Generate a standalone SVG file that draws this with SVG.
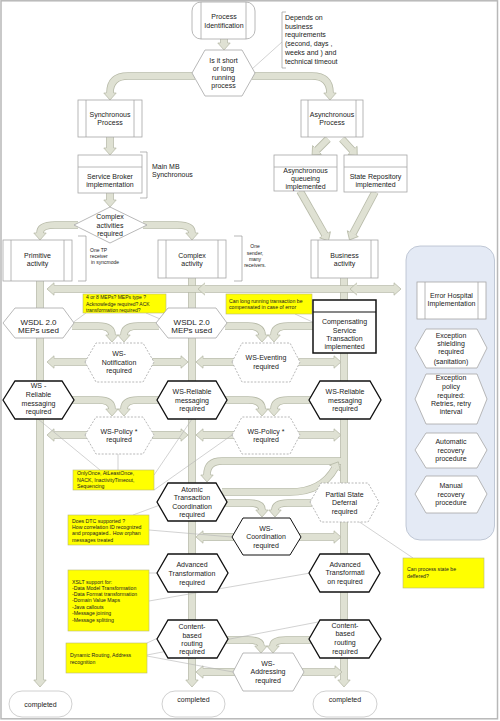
<svg xmlns="http://www.w3.org/2000/svg" width="500" height="721" viewBox="0 0 500 721">
<style>
.n{fill:#fff;stroke:#a6a6a6;stroke-width:0.8}
.d{fill:#fff;stroke:#a6a6a6;stroke-width:0.8;stroke-dasharray:2,1.5}
.k{fill:#fff;stroke:#111;stroke-width:1.3}
.note{fill:#ffff00;stroke:#b8b87a;stroke-width:0.6}
.il{fill:none;stroke:#a6a6a6;stroke-width:0.8}
.t{font-family:"Liberation Sans",Arial,sans-serif;font-size:7px;fill:#222;text-anchor:middle}
.t8{font-size:8px}
.s{font-family:"Liberation Sans",Arial,sans-serif;font-size:5.2px;fill:#222}
.sm{font-family:"Liberation Sans",Arial,sans-serif;font-size:5px;fill:#222}
.bo{fill:none;stroke:#b7baa8;stroke-width:7.6;marker-end:url(#h)}
.bi{fill:none;stroke:#dfe1d3;stroke-width:6}
.both{marker-start:url(#h)}
.ln{fill:none;stroke:#b4b4b4;stroke-width:0.6}
.br{fill:none;stroke:#9a9a9a;stroke-width:0.7}
</style>
<defs>
<marker id="h" markerUnits="userSpaceOnUse" orient="auto-start-reverse" refX="0" refY="0" markerWidth="16" markerHeight="16" overflow="visible">
<path d="M0,-6.2 L7,0 L0,6.2 Z" fill="#dfe1d3"/>
<path d="M0,-3.8 V-6.2 L7,0 L0,6.2 V3.8" fill="none" stroke="#b7baa8" stroke-width="0.8"/>
</marker>
</defs>
<rect x="1" y="0.8" width="496.5" height="718" fill="#fff" stroke="#b8b8b8" stroke-width="1.5"/>
<g id="error-hospital-area"><rect x="406" y="246" width="88.5" height="294" rx="14" fill="#e4eaf5" stroke="#b4bccb" stroke-width="0.8"/></g>
<g id="connectors">
<path class="bo" d="M224,39 V43"/><path class="bi" d="M224,39 V43"/>
<path class="bo" d="M195,76 H128 Q110,76 110,93"/><path class="bi" d="M195,76 H128 Q110,76 110,93"/>
<path class="bo" d="M252,76 H312 Q330,76 330,93"/><path class="bi" d="M252,76 H312 Q330,76 330,93"/>
<path class="bo" d="M110,137 V148"/><path class="bi" d="M110,137 V148"/>
<path class="bo" d="M328,139 L317,150"/><path class="bi" d="M328,139 L317,150"/>
<path class="bo" d="M342,139 L352.5,150.5"/><path class="bi" d="M342,139 L352.5,150.5"/>
<path class="bo" d="M300,191 L325,234.8"/><path class="bi" d="M300,191 L325,234.8"/>
<path class="bo" d="M375,192 L352.8,233.7"/><path class="bi" d="M375,192 L352.8,233.7"/>
<path class="bo" d="M110,193 V200"/><path class="bi" d="M110,193 V200"/>
<path class="bo" d="M78,225 H55 Q40,225 40,233"/><path class="bi" d="M78,225 H55 Q40,225 40,233"/>
<path class="bo" d="M143,225 H177 Q192,225 192,233"/><path class="bi" d="M143,225 H177 Q192,225 192,233"/>
<path class="bo" d="M40,281 V680"/><path class="bi" d="M40,281 V680"/>
<path class="bo" d="M192,278 V680"/><path class="bi" d="M192,278 V680"/>
<path class="bo" d="M344,278 V680"/><path class="bi" d="M344,278 V680"/>
<path class="bo both" d="M54,289 H394"/><path class="bi" d="M54,289 H394"/>
<path d="M205,282.8 L198,289 L205,295.2 Z" fill="#dfe1d3"/><path d="M205,282.8 L198,289 L205,295.2" fill="none" stroke="#b7baa8" stroke-width="0.8"/>
<path d="M357,282.8 L350,289 L357,295.2 Z" fill="#dfe1d3"/><path d="M357,282.8 L350,289 L357,295.2" fill="none" stroke="#b7baa8" stroke-width="0.8"/>
<path class="bo" d="M72,326 H98 Q112,326 112,335"/><path class="bi" d="M72,326 H98 Q112,326 112,335"/>
<path class="bo" d="M159,326 H138 Q124,326 124,335"/><path class="bi" d="M159,326 H138 Q124,326 124,335"/>
<path class="bo" d="M225,326 H248 Q262,326 262,335"/><path class="bi" d="M225,326 H248 Q262,326 262,335"/>
<path class="bo" d="M313,326 H288 Q274,326 274,335"/><path class="bi" d="M313,326 H288 Q274,326 274,335"/>
<path class="bo" d="M87,362 H54"/><path class="bi" d="M87,362 H54"/>
<path class="bo" d="M152,362 H181"/><path class="bi" d="M152,362 H181"/>
<path class="bo" d="M234,362 H203"/><path class="bi" d="M234,362 H203"/>
<path class="bo" d="M298,362 H334"/><path class="bi" d="M298,362 H334"/>
<path class="bo" d="M72,400 H98 Q112,400 112,409"/><path class="bi" d="M72,400 H98 Q112,400 112,409"/>
<path class="bo" d="M159,400 H138 Q124,400 124,409"/><path class="bi" d="M159,400 H138 Q124,400 124,409"/>
<path class="bo" d="M225,400 H248 Q262,400 262,409"/><path class="bi" d="M225,400 H248 Q262,400 262,409"/>
<path class="bo" d="M311,400 H288 Q274,400 274,409"/><path class="bi" d="M311,400 H288 Q274,400 274,409"/>
<path class="bo" d="M87,435 H54"/><path class="bi" d="M87,435 H54"/>
<path class="bo" d="M152,435 H181"/><path class="bi" d="M152,435 H181"/>
<path class="bo" d="M234,435 H203"/><path class="bi" d="M234,435 H203"/>
<path class="bo" d="M298,435 H334"/><path class="bi" d="M298,435 H334"/>
<path class="bo" d="M341,461 H222 Q207,461 207,475"/><path class="bi" d="M341,461 H222 Q207,461 207,475"/>
<path class="bo" d="M222,492 H290 Q322,492 335,468"/><path class="bi" d="M222,492 H290 Q322,492 335,468"/>
<path class="bo" d="M225,503 H249 Q262,503 262,510"/><path class="bi" d="M225,503 H249 Q262,503 262,510"/>
<path class="bo" d="M312,503 H288 Q275,503 275,510"/><path class="bi" d="M312,503 H288 Q275,503 275,510"/>
<path class="bo" d="M234,537 H203"/><path class="bi" d="M234,537 H203"/>
<path class="bo" d="M299,537 H334"/><path class="bi" d="M299,537 H334"/>
<path class="bo" d="M226,640 H248 Q261,640 261,646"/><path class="bi" d="M226,640 H248 Q261,640 261,646"/>
<path class="bo" d="M311,640 H286 Q273,640 273,646"/><path class="bi" d="M311,640 H286 Q273,640 273,646"/>
<path class="bo" d="M235,672 H203"/><path class="bi" d="M235,672 H203"/>
<path class="bo" d="M302,672 H335"/><path class="bi" d="M302,672 H335"/>
<path class="ln" d="M282,42 L252,69"/>
<path class="ln" d="M86,313 L64,329"/>
<path class="ln" d="M146,313 L172,324"/>
<path class="ln" d="M295,314 L330,330"/>
<path class="ln" d="M100,470 L38,419"/>
<path class="ln" d="M118,470 L118,454"/>
<path class="ln" d="M154,475 L192,419"/>
<path class="ln" d="M154,490 L232,435"/>
<path class="ln" d="M149,530 L232,537"/>
<path class="ln" d="M133,515 L160,505"/>
<path class="ln" d="M149,573 L157,573"/>
<path class="ln" d="M149,601 L316,572"/>
<path class="ln" d="M147,643 L160,637"/>
<path class="ln" d="M147,655 L318,622"/>
<path class="ln" d="M147,656 L233,672"/>
<path class="ln" d="M413,558 L358,521"/>
</g>
<g id="process-identification"><rect class="n" x="192" y="2" width="63" height="37" rx="9"/><path class="il" d="M201,2 V39 M246,2 V39"/><text class="t" x="224" y="19.2">Process</text><text class="t" x="224" y="27.5">Identification</text></g>
<g id="short-or-long"><polygon class="n" points="192,73 205,50 242,50 255,73 242,96 205,96"/><text class="t" x="223.5" y="62.7">Is it short</text><text class="t" x="223.5" y="71.2">or long</text><text class="t" x="223.5" y="79.7">running</text><text class="t" x="223.5" y="88.2">process</text></g>
<g id="depends-note"><path class="br" d="M286,12 H282 V68 H286"/><text class="t" style="text-anchor:start" x="285" y="19.8">Depends on</text><text class="t" style="text-anchor:start" x="285" y="28.5">business</text><text class="t" style="text-anchor:start" x="285" y="36.8">requirements</text><text class="t" style="text-anchor:start" x="285" y="45.8">(second, days ,</text><text class="t" style="text-anchor:start" x="285" y="54.8">weeks and ) and</text><text class="t" style="text-anchor:start" x="285" y="63.5">technical timeout</text></g>
<g id="synchronous-process"><rect class="n" x="78" y="100" width="64" height="37"/><path class="il" d="M86,100 V137 M134,100 V137"/><text class="t" x="110" y="117">Synchronous</text><text class="t" x="110" y="125.2">Process</text></g>
<g id="asynchronous-process"><rect class="n" x="301" y="100" width="62" height="37"/><path class="il" d="M308,100 V137 M356,100 V137"/><text class="t" x="332" y="117">Asynchronous</text><text class="t" x="332" y="125.2">Process</text></g>
<g id="service-broker"><rect class="n" x="78" y="155" width="64" height="38"/><path class="il" d="M78,167 H142"/><text class="t" x="110" y="178.5">Service Broker</text><text class="t" x="110" y="186.8">implementation</text></g>
<g id="main-mb-note"><path class="br" d="M140,152 H147 V198 H140"/><text class="t" style="text-anchor:start" x="152" y="168.5">Main MB</text><text class="t" style="text-anchor:start" x="152" y="176.8">Synchronous</text></g>
<g id="async-queueing"><rect class="n" x="274" y="155" width="63" height="36"/><path class="il" d="M274,167 H337"/><text class="t" x="305.5" y="172.5">Asynchronous</text><text class="t" x="305.5" y="180.8">queueing</text><text class="t" x="305.5" y="189.2">implemented</text></g>
<g id="state-repository"><rect class="n" x="344" y="155" width="63" height="37"/><path class="il" d="M344,167 H407"/><text class="t" x="375.5" y="178.5">State Repository</text><text class="t" x="375.5" y="186.8">implemented</text></g>
<g id="complex-activities-required"><polygon class="n" points="74,225 110,207 147,225 110,243"/><text class="t" x="110" y="219.2">Complex</text><text class="t" x="110" y="227.5">activities</text><text class="t" x="110" y="235.8">required</text></g>
<g id="primitive-activity"><rect class="n" x="3" y="240" width="69" height="41"/><path class="il" d="M11,240 V281 M64,240 V281"/><text class="t" x="37.5" y="257.5">Primitive</text><text class="t" x="37.5" y="265.8">activity</text></g>
<g id="one-tp-note"><path class="br" d="M78,236 H86 V281 H78"/><text class="sm" x="90" y="251.8">One TP</text><text class="sm" x="90" y="257.8">receiver</text><text class="sm" x="91" y="263.5">in syncmode</text></g>
<g id="complex-activity"><rect class="n" x="158" y="240" width="68" height="38"/><path class="il" d="M166,240 V278 M218,240 V278"/><text class="t" x="192" y="257.5">Complex</text><text class="t" x="192" y="265.8">activity</text></g>
<g id="one-sender-note"><path class="br" d="M234,236 H242 V281 H234"/><text class="sm" x="255" y="247.8" text-anchor="middle">One</text><text class="sm" x="255" y="254.5" text-anchor="middle">sender,</text><text class="sm" x="255" y="261.1" text-anchor="middle">many</text><text class="sm" x="255" y="267.1" text-anchor="middle">receivers.</text></g>
<g id="business-activity"><rect class="n" x="311" y="240" width="67" height="38"/><path class="il" d="M318,240 V278 M371,240 V278"/><text class="t" x="344.5" y="257.5">Business</text><text class="t" x="344.5" y="265.8">activity</text></g>
<g id="note-meps"><rect class="note" x="83" y="294" width="83" height="19"/><text class="sm" x="86" y="299.1">4 or 8 MEPs? MEPs type ?</text><text class="sm" x="86" y="305.6">Acknowledge required? ACK</text><text class="sm" x="86" y="311.8">transformation required?</text></g>
<g id="note-compensate"><rect class="note" x="226" y="294" width="86" height="20"/><text class="s" x="229" y="303.1">Can long running transaction be</text><text class="s" x="229" y="309.1">compensated in case of error</text></g>
<g id="wsdl-left"><polygon class="n" points="3,323 15,308 63,308 74,323 63,338 15,338"/><text class="t t8" x="38.5" y="324.5">WSDL 2.0</text><text class="t t8" x="38.5" y="332.8">MEPs used</text></g>
<g id="wsdl-mid"><polygon class="n" points="156,323 168,308 216,308 227,323 216,338 168,338"/><text class="t t8" x="191.7" y="324.5">WSDL 2.0</text><text class="t t8" x="191.7" y="332.8">MEPs used</text></g>
<g id="compensating"><rect x="313" y="300" width="63" height="53" fill="#fff" stroke="#111" stroke-width="1.5"/><path d="M313,312 H376" stroke="#111" stroke-width="1.2"/><text class="t" x="344.5" y="324.2">Compensating</text><text class="t" x="344.5" y="332.5">Service</text><text class="t" x="344.5" y="340.8">Transaction</text><text class="t" x="344.5" y="349.2">implemented</text></g>
<g id="ws-notification"><polygon class="d" points="85,362 96,343 143,343 154,362 143,382 96,382"/><text class="t" x="119" y="355.8">WS-</text><text class="t" x="119" y="364.8">Notification</text><text class="t" x="119" y="373.2">required</text></g>
<g id="ws-eventing"><polygon class="d" points="232,362 242,343 290,343 300,362 290,382 242,382"/><text class="t" x="266" y="359.8">WS-Eventing</text><text class="t" x="266" y="368.5">required</text></g>
<g id="ws-reliable-left"><polygon class="k" points="3,400 15,381 62,381 74,400 62,419 15,419"/><text class="t" x="38.5" y="388.2">WS -</text><text class="t" x="38.5" y="396.8">Reliable</text><text class="t" x="38.5" y="405.8">messaging</text><text class="t" x="38.5" y="414.2">required</text></g>
<g id="ws-reliable-mid"><polygon class="k" points="157,400 168,381 216,381 227,400 216,419 168,419"/><text class="t" x="192" y="393.5">WS-Reliable</text><text class="t" x="192" y="402.5">messaging</text><text class="t" x="192" y="410.8">required</text></g>
<g id="ws-reliable-right"><polygon class="k" points="309,400 320,381 370,381 381,400 370,419 320,419"/><text class="t" x="345" y="393.5">WS-Reliable</text><text class="t" x="345" y="402.5">messaging</text><text class="t" x="345" y="410.8">required</text></g>
<g id="ws-policy-left"><polygon class="d" points="85,435 96,417 143,417 154,435 143,454 96,454"/><text class="t" x="119" y="433.5">WS-Policy *</text><text class="t" x="119" y="441.8">required</text></g>
<g id="ws-policy-right"><polygon class="d" points="232,435 242,417 290,417 300,435 290,454 242,454"/><text class="t" x="266" y="433.5">WS-Policy *</text><text class="t" x="266" y="441.8">required</text></g>
<g id="note-policy"><rect class="note" x="73" y="470" width="81" height="20"/><text class="s" x="77" y="475.1">OnlyOnce, AtLeastOnce,</text><text class="s" x="77" y="481.8">NACK, InactivityTimeout,</text><text class="s" x="77" y="487.8">Sequencing</text></g>
<g id="atomic-transaction"><polygon class="k" points="157,502 168,483 216,483 227,502 216,521 168,521"/><text class="t" x="192" y="491.8">Atomic</text><text class="t" x="192" y="500.2">Transaction</text><text class="t" x="192" y="508.5">Coordination</text><text class="t" x="192" y="516.8">required</text></g>
<g id="partial-state"><polygon class="d" points="310,502 321,483 368,483 379,502 368,522 321,522"/><text class="t" x="344.5" y="496.5">Partial State</text><text class="t" x="344.5" y="505.2">Deferral</text><text class="t" x="344.5" y="513.5">required</text></g>
<g id="note-dtc"><rect class="note" x="68" y="515" width="81" height="30"/><text class="s" x="72" y="522.5">Does DTC supported ?</text><text class="s" x="72" y="528.5">How correlation ID recognized</text><text class="s" x="72" y="535.1">and propagated.. How orphan</text><text class="s" x="72" y="541.8">messages treated</text></g>
<g id="ws-coordination"><polygon fill="#fff" stroke="#111" stroke-width="1" points="232,537 243,518 290,518 301,537 290,555 243,555"/><text class="t" x="266" y="530.9">WS-</text><text class="t" x="266" y="539.2">Coordination</text><text class="t" x="266" y="547.5">required</text></g>
<g id="advanced-mid"><polygon class="k" points="157,573 168,554 217,554 228,573 217,592 168,592"/><text class="t" x="192" y="566.8">Advanced</text><text class="t" x="192" y="575.8">Transformation</text><text class="t" x="192" y="584.8">required</text></g>
<g id="advanced-right"><polygon class="k" points="309,573 320,554 369,554 380,573 369,592 320,592"/><text class="t" x="345" y="566.5">Advanced</text><text class="t" x="345" y="575.2">Transformati</text><text class="t" x="345" y="583.5">on required</text></g>
<g id="note-xslt"><rect class="note" x="68" y="570" width="81" height="61"/><text class="s" x="72" y="583.5">XSLT support for:</text><text class="s" x="72" y="589.5">-Data Model Transformation</text><text class="s" x="72" y="595.8">-Data Format transformation</text><text class="s" x="72" y="602.1">-Domain Value Maps</text><text class="s" x="72" y="608.5">-Java callouts</text><text class="s" x="72" y="615.1">-Message joining</text><text class="s" x="72" y="621.5">-Message splitting</text></g>
<g id="content-mid"><polygon class="k" points="157,639 168,620 217,620 228,639 217,658 168,658"/><text class="t" x="192" y="629.2">Content-</text><text class="t" x="192" y="637.5">based</text><text class="t" x="192" y="645.8">routing</text><text class="t" x="192" y="654.2">required</text></g>
<g id="content-right"><polygon class="k" points="309,639 320,620 369,620 381,639 369,658 320,658"/><text class="t" x="345" y="627.5">Content-</text><text class="t" x="345" y="635.8">based</text><text class="t" x="345" y="644.8">routing</text><text class="t" x="345" y="653.5">required</text></g>
<g id="ws-addressing"><polygon class="n" points="233,672 243,653 293,653 304,672 293,691 243,691"/><text class="t" x="268" y="665.8">WS-</text><text class="t" x="268" y="674.2">Addressing</text><text class="t" x="268" y="682.5">required</text></g>
<g id="note-routing"><rect class="note" x="66" y="643" width="81" height="30"/><text class="s" x="70" y="656.8">Dynamic Routing, Address</text><text class="s" x="70" y="663.5">recognition</text></g>
<g id="note-state"><rect class="note" x="403" y="558" width="81" height="30"/><text class="s" x="407" y="571.1">Can process state be</text><text class="s" x="407" y="577.5">deffered?</text></g>
<g id="completed-left"><rect x="9" y="691" width="63" height="26" rx="13" fill="#fff" stroke="#c4c4c4" stroke-width="0.8"/><text class="t" x="40.5" y="706.5">completed</text></g>
<g id="completed-mid"><rect x="162" y="691" width="63" height="26" rx="13" fill="#fff" stroke="#c4c4c4" stroke-width="0.8"/><text class="t" x="193.5" y="701.5">completed</text></g>
<g id="completed-right"><rect x="313" y="691" width="64" height="26" rx="13" fill="#fff" stroke="#c4c4c4" stroke-width="0.8"/><text class="t" x="345" y="701.5">completed</text></g>
<g id="error-hospital"><rect class="n" x="417" y="282" width="69" height="37"/><path class="il" d="M425,282 V319 M478,282 V319"/><text class="t" x="451.5" y="297.5">Error Hospital</text><text class="t" x="451.5" y="305.8">Implementation</text></g>
<g id="exception-shielding"><polygon class="n" points="415,348 426,329 477,329 487,348 477,368 426,368"/><text class="t" x="451" y="337.5">Exception</text><text class="t" x="451" y="345.8">shielding</text><text class="t" x="451" y="354.2">required</text><text class="t" x="451" y="364.2">(sanitation)</text></g>
<g id="exception-policy"><polygon class="n" points="415,399 426,374 477,374 487,399 477,424 426,424"/><text class="t" x="451" y="380.2">Exception</text><text class="t" x="451" y="389.2">policy</text><text class="t" x="451" y="397.5">required:</text><text class="t" x="451" y="405.8">Retries, retry</text><text class="t" x="451" y="414.2">interval</text></g>
<g id="automatic-recovery"><polygon class="n" points="415,450 426,433 477,433 487,450 477,468 426,468"/><text class="t" x="451" y="444">Automatic</text><text class="t" x="451" y="452.5">recovery</text><text class="t" x="451" y="461">procedure</text></g>
<g id="manual-recovery"><polygon class="n" points="415,494 426,476 477,476 487,494 477,513 426,513"/><text class="t" x="451" y="487.5">Manual</text><text class="t" x="451" y="496.5">recovery</text><text class="t" x="451" y="504.8">procedure</text></g>
</svg>
